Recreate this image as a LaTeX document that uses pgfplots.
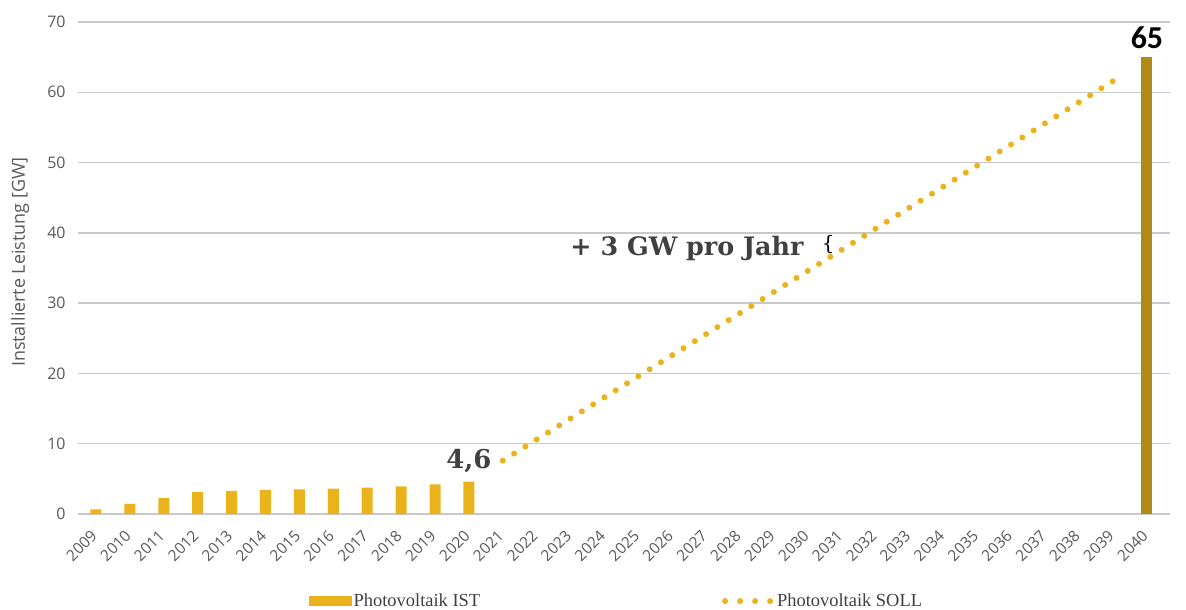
\documentclass[border=0pt]{standalone}
\usepackage{pgfplots}
\pgfplotsset{compat=1.18}
\usepackage{fontspec}
\setmainfont{Open Sans}
\newfontfamily\annotfont{DejaVu Serif}
\newfontfamily\legfont{Liberation Serif}
\newfontfamily\bignum{Carlito}
\definecolor{gold}{HTML}{EAB31B}
\definecolor{darkgold}{HTML}{AF8A16}
\definecolor{gridgray}{HTML}{C9C9C9}
\definecolor{ticktext}{HTML}{595959}
\definecolor{annot}{HTML}{404040}
\begin{document}
\begin{tikzpicture}
\useasboundingbox (0,0) rectangle (1186bp,610bp);
\begin{axis}[
  at={(78bp,96bp)}, anchor=south west,
  scale only axis, width=1092bp, height=492bp,
  xmin=2008.47, xmax=2040.68, ymin=0, ymax=70,
  clip=false,
  axis line style={draw=none},
  major tick length=0pt,
  ymajorgrids, grid style={gridgray, line width=1.5bp},
  ytick={0,10,...,70},
  xtick={2009,...,2040},
  /pgf/number format/assume math mode=true,
  y tick label style={font=\fontsize{16}{16}\selectfont, text=ticktext, xshift=-9bp},
  x tick label style={rotate=45, anchor=north east, font=\fontsize{15.5}{15.5}\selectfont, text=ticktext, /pgf/number format/1000 sep={}, xshift=-11.5bp, yshift=-3bp},
  ylabel={Installierte Leistung [GW]},
  ylabel style={font=\fontsize{18}{18}\selectfont, text=ticktext, at={(axis description cs:-0.053,0.512)}, anchor=center},
  legend columns=2,
  legend style={at={(axis description cs:0.493,-0.177)}, anchor=center, draw=none, fill=none,
    font=\legfont\fontsize{18.5}{18.5}\selectfont, text=annot,
    /tikz/every even column/.append style={column sep=240bp}},
]
\addplot[ybar, bar width=11bp, fill=gold, draw=none,
  legend image code/.code={\fill[gold] (0bp,-5bp) rectangle (43bp,5bp);}]
  coordinates {(2009,0.67) (2010,1.45) (2011,2.25) (2012,3.1) (2013,3.3) (2014,3.42)
    (2015,3.52) (2016,3.6) (2017,3.75) (2018,3.94) (2019,4.22) (2020,4.6)};
\addlegendentry{Photovoltaik IST}
\addplot[gold, line width=6bp, line cap=round, dash pattern=on 0bp off 13.3bp,
  legend image code/.code={\draw[gold, line width=6bp, line cap=round, dash pattern=on 0bp off 15bp] (3bp,0) -- (50bp,0);}]
  coordinates {(2021,7.6) (2039,61.6)};
\addlegendentry{Photovoltaik SOLL}
\addplot[ybar, bar width=11bp, fill=darkgold, draw=none, forget plot]
  coordinates {(2040,65)};
\node[font=\annotfont\bfseries\fontsize{25.5}{25.5}\selectfont, text=annot] at (axis cs:2026.43,37.8) {+ 3 GW pro Jahr};
\node[font=\annotfont\fontsize{20}{20}\selectfont, text=black] at (axis cs:2030.6,38.3) {\{};
\node[font=\annotfont\bfseries\fontsize{26}{26}\selectfont, text=annot] at (axis cs:2020.0,7.6) {4,6};
\node[font=\bignum\bfseries\fontsize{32}{32}\selectfont, text=black] at (axis cs:2040,67.7) {65};
\end{axis}
\end{tikzpicture}
\end{document}
